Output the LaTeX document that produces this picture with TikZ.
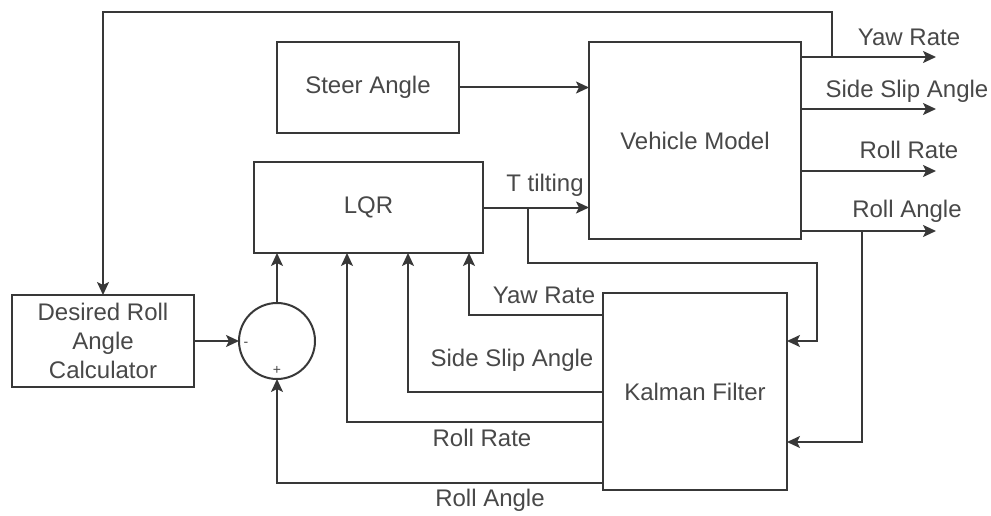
\documentclass[tikz,border=0pt]{standalone}
\usepackage{fontspec}
\setmainfont{Liberation Sans}
\usetikzlibrary{arrows.meta}
\definecolor{ln}{HTML}{383838}
\definecolor{tx}{HTML}{484848}
\begin{document}
\begin{tikzpicture}[x=1pt,y=-1pt,
  blk/.style={draw=ln,line width=2pt,inner sep=0pt,outer sep=0pt,text=tx,align=center,font=\fontsize{24}{29}\selectfont},
  sumc/.style={draw=ln,line width=2pt,circle,inner sep=0pt,outer sep=0pt,minimum size=76pt},
  wire/.style={draw=ln,line width=2pt},
  arr/.style={wire,-{Stealth[length=13pt,width=12pt,inset=3pt]}},
  lbl/.style={text=tx,inner sep=0pt,font=\fontsize{24}{29}\selectfont},
  sgn/.style={text=tx,inner sep=0pt,font=\fontsize{14}{16}\selectfont}]
\useasboundingbox (0,0) rectangle (991,516);
% blocks
\node[blk,minimum width=182pt,minimum height=91pt] (steer) at (368,87.5) {Steer Angle};
\node[blk,minimum width=212pt,minimum height=197pt] (vm) at (695,140.5) {Vehicle Model};
\node[blk,minimum width=229pt,minimum height=91pt] (lqr) at (368.5,207.5) {LQR};
\node[blk,minimum width=184pt,minimum height=197pt] (kf) at (695,391.5) {Kalman Filter};
\node[blk,minimum width=182pt,minimum height=92pt] (drac) at (103,341) {Desired Roll\\Angle\\Calculator};
\node[sumc] (sum) at (277,341) {};
\node[sgn] (minus) at (246,344) {-};
\node[sgn] (plus) at (277,370) {+};
% coordinates
\coordinate (o1) at (936,57);
\coordinate (o2) at (936,109);
\coordinate (o3) at (936,171);
\coordinate (o4) at (936,231);
\coordinate (ya) at (832,57);
\coordinate (ytop) at (832,12);
\coordinate (ra) at (862,231);
\coordinate (tb) at (528,207.5);
\coordinate (tc) at (817,263);
\coordinate (kin1) at (787,341);
\coordinate (kin2) at (787,442);
\coordinate (l1) at (469,253);
\coordinate (l2) at (408,253);
\coordinate (l3) at (347,253);
\coordinate (k1) at (603,315);
\coordinate (k2) at (603,392);
\coordinate (k3) at (603,422);
\coordinate (k4) at (603,483);
% forward connectors
\draw[arr] (steer.east) -- (steer.east -| vm.west);
\draw[arr] (lqr.east) -- (lqr.east -| vm.west);
\draw[arr] (vm.east |- o1) -- (o1);
\draw[arr] (vm.east |- o2) -- (o2);
\draw[arr] (vm.east |- o3) -- (o3);
\draw[arr] (vm.east |- o4) -- (o4);
% top feedback
\draw[arr] (ya) -- (ytop) -| (drac.north);
% to Kalman
\draw[arr] (tb) |- (tc) |- (kin1);
\draw[arr] (ra) |- (kin2);
% Kalman outputs to LQR / sum
\draw[arr] (k1) -| (l1);
\draw[arr] (k2) -| (l2);
\draw[arr] (k3) -| (l3);
\draw[arr] (k4) -| (sum.south);
\draw[arr] (drac.east) -- (sum.west);
\draw[arr] (sum.north) -- (sum.north |- lqr.south);
% labels
\node[lbl] (lyr) at (909,37) {Yaw Rate};
\node[lbl] (lss) at (907,91) {Side Slip Angle};
\node[lbl] (lrr) at (909,150) {Roll Rate};
\node[lbl] (lra) at (907,211) {Roll Angle};
\node[lbl] (ltt) at (545,185) {T tilting};
\node[lbl] (fyr) at (544,295) {Yaw Rate};
\node[lbl] (fss) at (512,360) {Side Slip Angle};
\node[lbl] (frr) at (482,438) {Roll Rate};
\node[lbl] (fra) at (490,500) {Roll Angle};
\end{tikzpicture}
\end{document}
